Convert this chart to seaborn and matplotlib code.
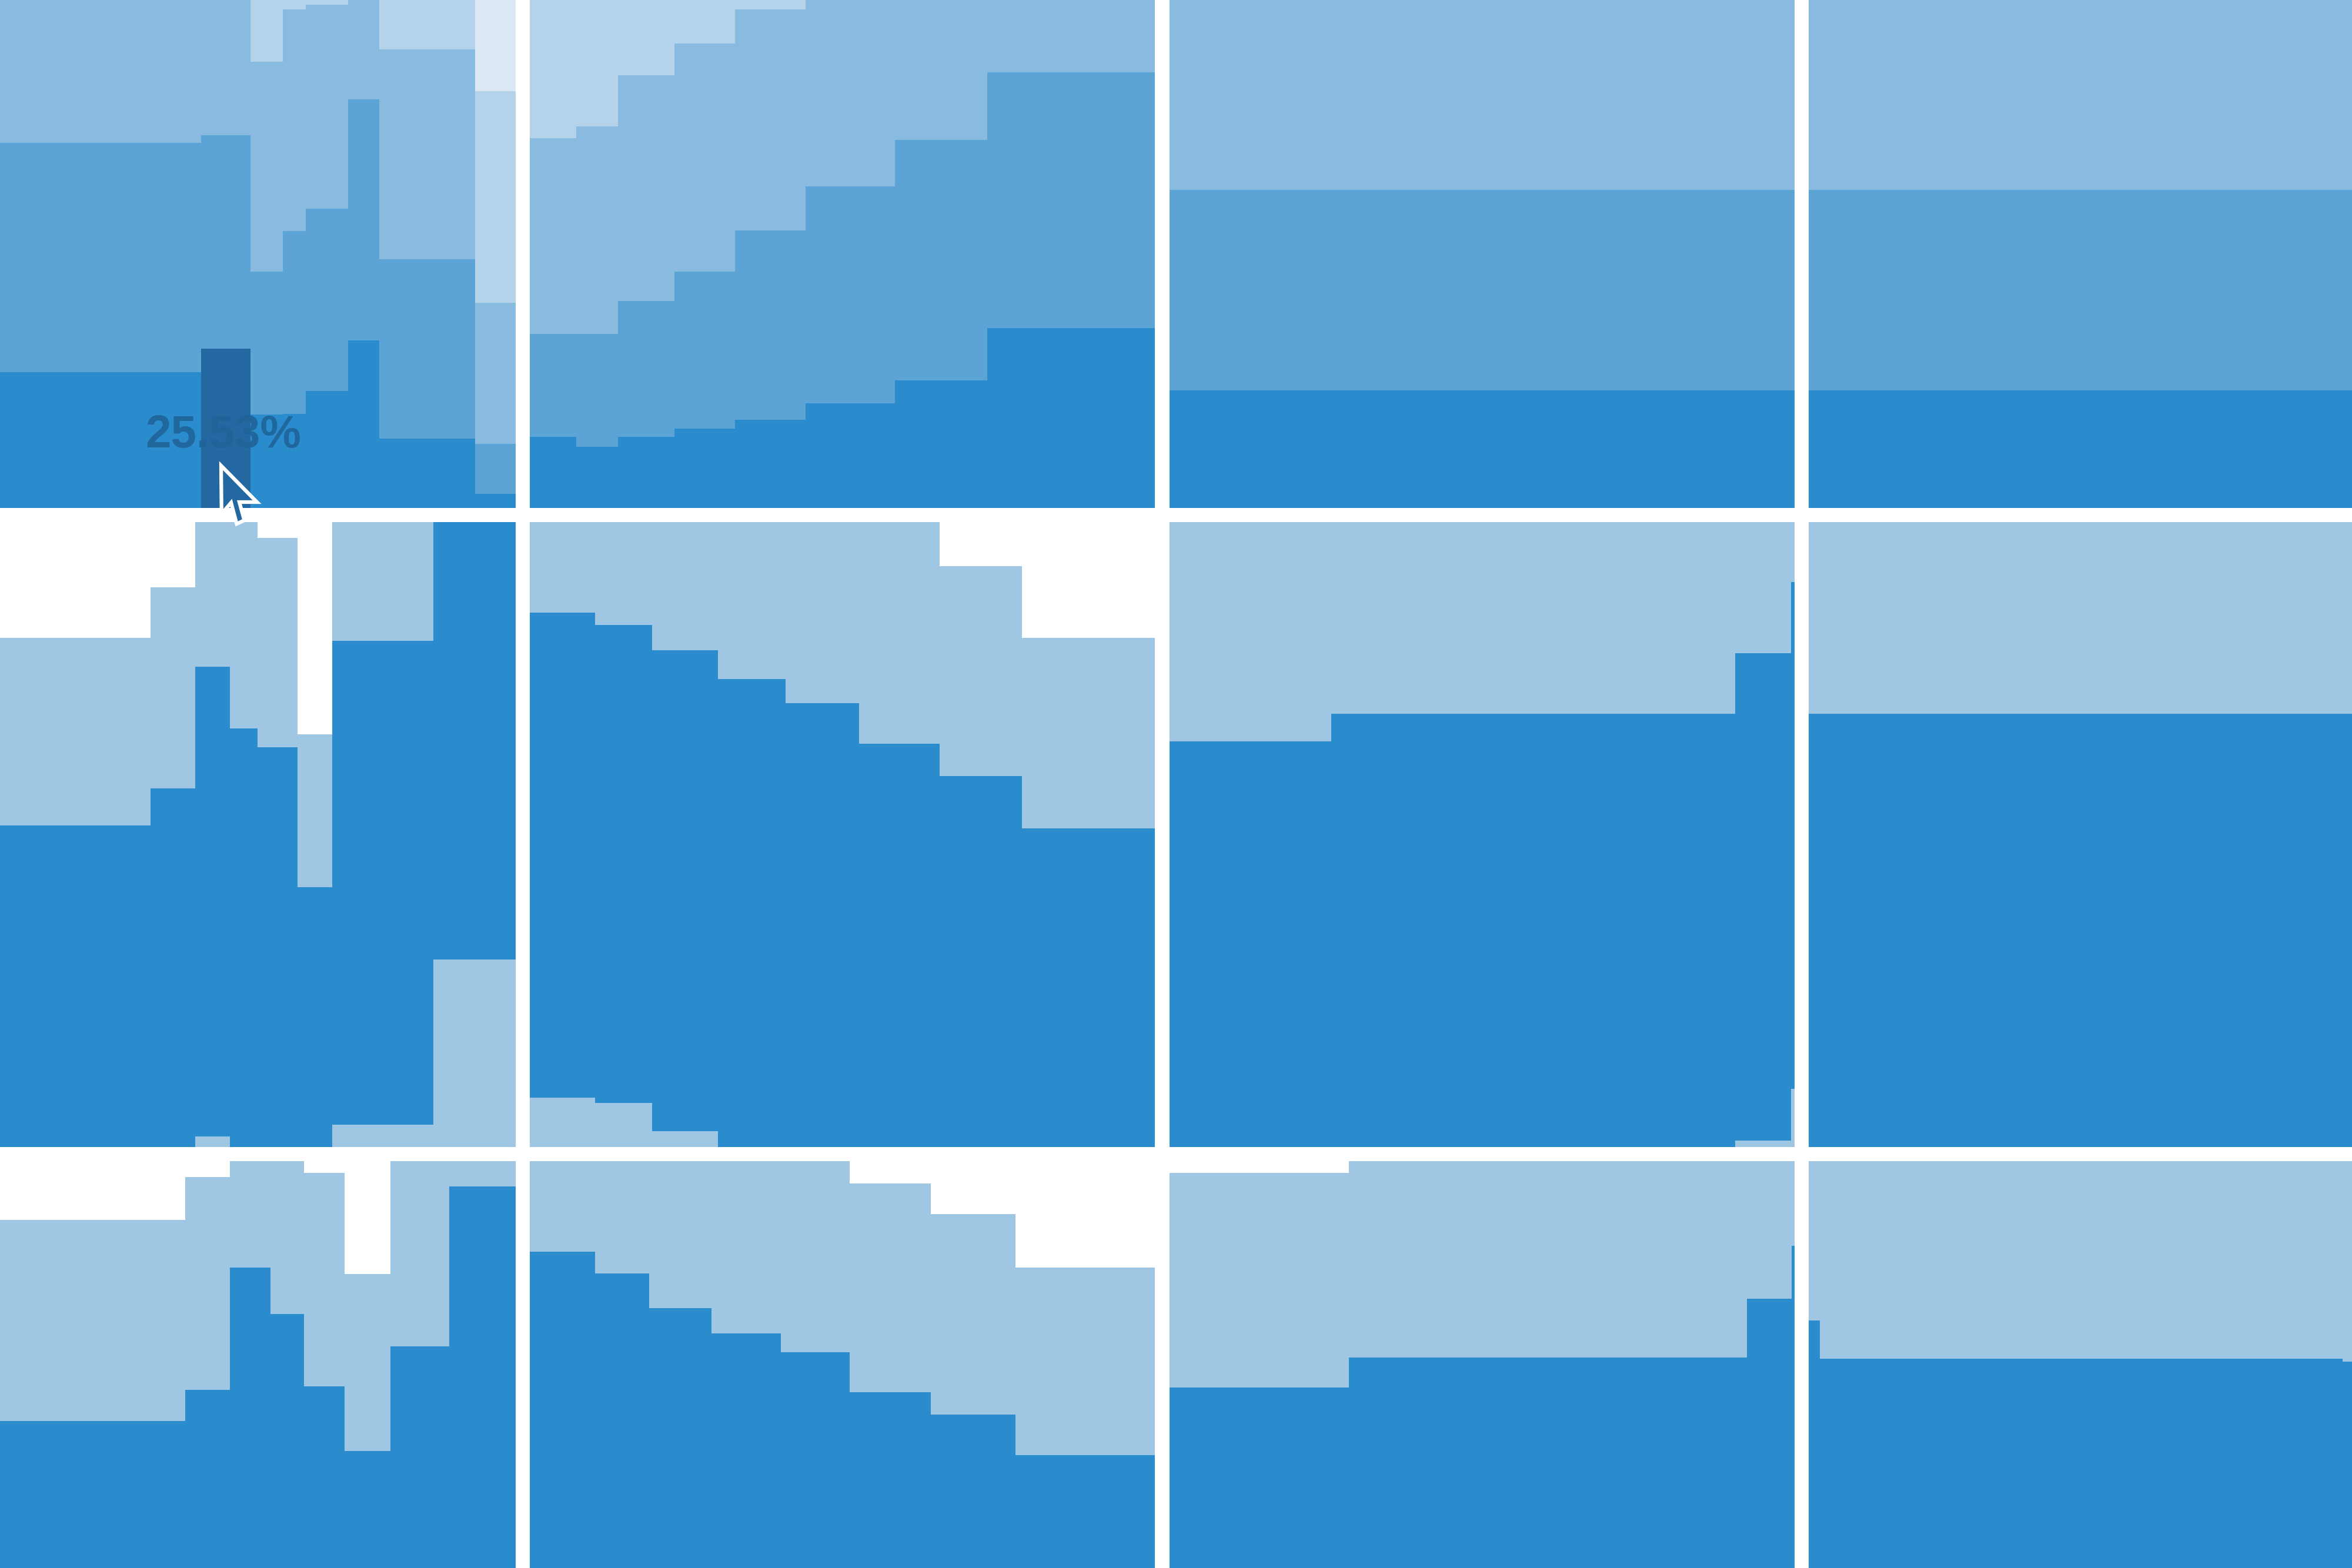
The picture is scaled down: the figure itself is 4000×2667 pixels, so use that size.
import numpy as np
import pandas as pd
import matplotlib
matplotlib.use("Agg")
import matplotlib.pyplot as plt
from matplotlib.patches import Polygon
import seaborn as sns

# ---------------- data (percent of panel height; edges in percent of panel width) -------------
# Row 1 categories (bottom -> top): dark, medium, light, lighter, lightest
r1c1_edges    = [0, 49.7, 57.6, 62.75, 66.5, 73.25, 78.25, 93.6, 100]
r1c1_dark     = [21.7, 25.53, 15.0, 15.05, 18.7, 26.8, 11.1, 2.3]
r1c1_medium   = [36.7, 34.07, 22.8, 29.25, 29.2, 38.6, 28.7, 8.0]
r1c1_light    = [41.6, 40.4, 33.6, 35.5, 32.6, 34.6, 33.6, 22.5]
r1c1_lighter  = [0, 0, 28.6, 20.2, 19.5, 0, 26.6, 33.9]
r1c1_lightest = [0, 0, 0, 0, 0, 0, 0, 33.3]

r1c2_edges    = [0, 7.4, 14.1, 23.1, 32.8, 44.1, 58.4, 73.2, 100]
r1c2_dark     = [11.4, 9.8, 11.4, 12.7, 14.1, 16.7, 20.4, 28.8]
r1c2_medium   = [16.4, 18.0, 21.7, 25.1, 30.3, 34.8, 38.5, 40.9]
r1c2_light    = [31.4, 33.3, 36.1, 36.5, 35.4, 48.5, 41.1, 30.3]
r1c2_lighter  = [40.8, 38.9, 30.8, 25.7, 20.2, 0, 0, 0]
r1c2_lightest = [0, 0, 0, 0, 0, 0, 0, 0]

r1c3_edges = [0, 100]
r1c3_dark, r1c3_medium, r1c3_light, r1c3_lighter, r1c3_lightest = [18.8], [32.1], [49.1], [0], [0]
r1c4_edges = [0, 100]
r1c4_dark, r1c4_medium, r1c4_light, r1c4_lighter, r1c4_lightest = [18.8], [32.1], [49.1], [0], [0]

# Rows 2-3 categories (bottom -> top): base (light), main (dark), rest (light)
r2c1_edges = [0, 41.6, 48.75, 54.3, 58.75, 65.1, 70.7, 86.9, 100]
r2c1_base  = [0, 0, 1.7, 0, 0, 0, 3.6, 30.0]
r2c1_main  = [51.5, 57.4, 75.2, 67.0, 64.0, 41.6, 77.4, 70.0]
r2c1_rest  = [30.0, 32.2, 23.1, 33.0, 33.5, 24.4, 19.0, 0]

r2c2_edges = [0, 10.4, 19.6, 30.1, 40.9, 52.7, 65.6, 78.7, 100]
r2c2_base  = [7.9, 7.1, 2.5, 0, 0, 0, 0, 0]
r2c2_main  = [77.6, 76.4, 77.0, 74.9, 71.0, 64.5, 59.4, 51.0]
r2c2_rest  = [14.5, 16.5, 20.5, 25.1, 29.0, 35.5, 33.5, 30.5]

r2c3_edges = [0, 25.9, 90.5, 99.4, 100]
r2c3_base  = [0, 0, 1.0, 9.3]
r2c3_main  = [64.9, 69.3, 78.0, 81.1]
r2c3_rest  = [35.1, 30.7, 21.0, 9.6]

r2c4_edges = [0, 100]
r2c4_base, r2c4_main, r2c4_rest = [0], [69.3], [30.7]

r3c1_edges = [0, 47.2, 54.3, 60.8, 66.2, 72.7, 80.0, 89.4, 100]
r3c1_base  = [0, 0, 0, 0, 0, 0, 0, 0]
r3c1_main  = [58.4, 63.4, 83.0, 75.5, 64.0, 53.6, 70.4, 96.0]
r3c1_rest  = [32.2, 34.1, 17.0, 24.5, 34.1, 28.3, 29.6, 4.0]

r3c2_edges = [0, 10.4, 19.1, 29.1, 40.2, 51.2, 64.2, 77.7, 100]
r3c2_base  = [0, 0, 0, 0, 0, 0, 0, 0]
r3c2_main  = [85.5, 82.0, 76.5, 72.4, 69.4, 63.0, 59.5, 53.0]
r3c2_rest  = [14.5, 18.0, 23.5, 27.6, 30.6, 33.4, 32.0, 30.0]

r3c3_edges = [0, 28.7, 92.4, 99.5, 100]
r3c3_base  = [0, 0, 0, 0]
r3c3_main  = [63.8, 68.6, 78.0, 86.5]
r3c3_rest  = [34.3, 31.4, 22.0, 13.5]

r3c4_edges = [0, 1.8, 85.4, 100]
r3c4_base  = [0, 0, 0]
r3c4_main  = [74.5, 68.4, 67.9]
r3c4_rest  = [25.5, 31.6, 32.1]

hover_bar_index = 1          # hovered bar in r1c1
hover_value = r1c1_dark[hover_bar_index]

# ---------------- styling ----------------
ROW1_COLORS = ["#2b8ccd", "#5ca4d6", "#88bbdf", "#b4d3ea", "#dce9f4"]
ROW23_COLORS = ["#9fc6e3", "#2b8ccd", "#9fc6e3"]
HOVER_COLOR = "#2368a0"
TEXT_COLOR = "#1f6399"

W, H = 4000, 2667
DPI = 250
PANEL = 1063
COL_LEFT = [-186.5, 901, 1989, 3076]
ROW_TOP = [-199, 888, 1975]

sns.set_theme(style="white")
plt.rcParams["font.family"] = ["Liberation Sans", "DejaVu Sans"]

fig = plt.figure(figsize=(W / DPI, H / DPI), dpi=DPI, facecolor="white")


def make_ax(r, c):
    l, t = COL_LEFT[c], ROW_TOP[r]
    ax = fig.add_axes([l / W, 1 - (t + PANEL) / H, PANEL / W, PANEL / H])
    ax.set_facecolor("white")
    return ax


def step_layer(ax, edges, heights, color):
    edges = [float(e) for e in edges]
    centers = [(a + b) / 2 for a, b in zip(edges[:-1], edges[1:])]
    df = pd.DataFrame({"pos": centers, "h": [float(v) for v in heights]})
    sns.histplot(data=df, x="pos", weights="h", bins=edges, element="step",
                 fill=True, color=color, alpha=1, linewidth=0, ax=ax)


def draw_panel(ax, edges, layers, colors):
    cum = np.cumsum(np.asarray(layers, float), axis=0)
    for k in range(len(layers) - 1, -1, -1):
        if cum[k].max() <= 0:
            continue
        step_layer(ax, edges, cum[k], colors[k])
    ax.set_xlim(0, 100)
    ax.set_ylim(0, 100)
    ax.set_axis_off()


row1 = {
    0: (r1c1_edges, [r1c1_dark, r1c1_medium, r1c1_light, r1c1_lighter, r1c1_lightest]),
    1: (r1c2_edges, [r1c2_dark, r1c2_medium, r1c2_light, r1c2_lighter, r1c2_lightest]),
    2: (r1c3_edges, [r1c3_dark, r1c3_medium, r1c3_light, r1c3_lighter, r1c3_lightest]),
    3: (r1c4_edges, [r1c4_dark, r1c4_medium, r1c4_light, r1c4_lighter, r1c4_lightest]),
}
row2 = {
    0: (r2c1_edges, [r2c1_base, r2c1_main, r2c1_rest]),
    1: (r2c2_edges, [r2c2_base, r2c2_main, r2c2_rest]),
    2: (r2c3_edges, [r2c3_base, r2c3_main, r2c3_rest]),
    3: (r2c4_edges, [r2c4_base, r2c4_main, r2c4_rest]),
}
row3 = {
    0: (r3c1_edges, [r3c1_base, r3c1_main, r3c1_rest]),
    1: (r3c2_edges, [r3c2_base, r3c2_main, r3c2_rest]),
    2: (r3c3_edges, [r3c3_base, r3c3_main, r3c3_rest]),
    3: (r3c4_edges, [r3c4_base, r3c4_main, r3c4_rest]),
}

for c, (edges, layers) in row1.items():
    ax = make_ax(0, c)
    draw_panel(ax, edges, layers, ROW1_COLORS)
    if c == 0:
        e0, e1 = r1c1_edges[hover_bar_index], r1c1_edges[hover_bar_index + 1]
        step_layer(ax, [e0, e1], [hover_value], HOVER_COLOR)
        ax.set_xlim(0, 100)
        ax.set_ylim(0, 100)
        ax.set_axis_off()
        ax.text((e0 + e1) / 2 - 0.4, 11.6, f"{hover_value:.2f}%", ha="center",
                va="center", fontsize=22.5, fontweight="bold", color=TEXT_COLOR,
                alpha=0.9)

for c, (edges, layers) in row2.items():
    draw_panel(make_ax(1, c), edges, layers, ROW23_COLORS)

for c, (edges, layers) in row3.items():
    draw_panel(make_ax(2, c), edges, layers, ROW23_COLORS)

# mouse pointer (decoration, figure pixel coordinates, y measured from top)
cursor_px = np.array([[376.0, 792.0], [376.8, 874.0], [393.0, 855.0], [402.5, 891.0],
                      [415.5, 885.0], [407.0, 854.0], [437.0, 854.0]])
cursor_fig = np.column_stack([cursor_px[:, 0] / W, 1 - cursor_px[:, 1] / H])
fig.add_artist(Polygon(cursor_fig, closed=True, transform=fig.transFigure,
                       facecolor=HOVER_COLOR, edgecolor="white", linewidth=1.8,
                       joinstyle="miter", zorder=10))

fig.savefig("out.png", dpi=DPI, facecolor="white")
